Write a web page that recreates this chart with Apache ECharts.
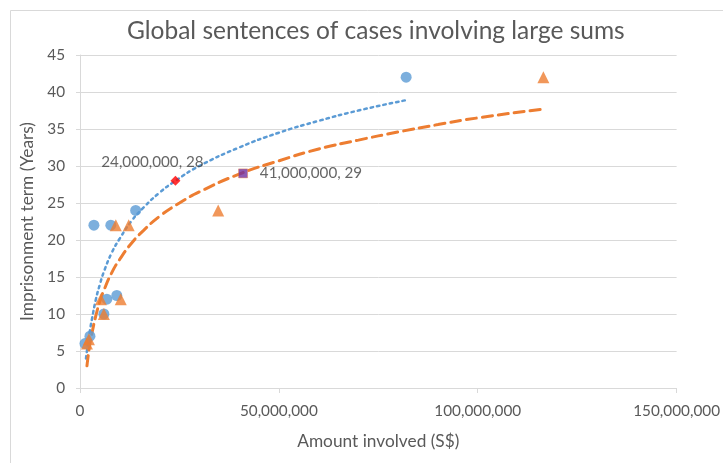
<!DOCTYPE html>
<html>
<head>
<meta charset="utf-8">
<script src="https://cdn.jsdelivr.net/npm/echarts@6/dist/echarts.min.js"></script>
<style>
html,body{margin:0;padding:0;background:#fff;}
#c{width:723px;height:463px;}
</style>
</head>
<body>
<div id="c"></div>
<script>
// Amount involved (S$), imprisonment term (years)
var blueCases = [[1.25e6, 6], [2.5e6, 7], [6e6, 10], [6.75e6, 12], [9.25e6, 12.5], [3.5e6, 22], [7.75e6, 22], [14e6, 24], [82e6, 42]];
var orangeCases = [[1.75e6, 6], [2.25e6, 6.6], [6e6, 10], [5.25e6, 12], [10.25e6, 12], [9e6, 22], [12.25e6, 22], [34.75e6, 24], [116.5e6, 42]];
var blueHighlight = [[24e6, 28]];
var orangeHighlight = [[41e6, 29]];
// trend curves
var blueTrend = [[1.5e6, 4], [2e6, 6], [2.5e6, 7.8], [3e6, 9.3], [4e6, 12], [5e6, 14], [6e6, 15.7], [8e6, 18.3], [10e6, 20.2], [13e6, 22.6], [16e6, 24.4], [20e6, 26.4], [24e6, 28], [30e6, 30], [40e6, 32.5], [50e6, 34.5], [60e6, 36.1], [70e6, 37.5], [82e6, 38.9]];
var orangeTrend = [[1.75e6, 3], [2e6, 4.1], [2.5e6, 6], [3e6, 7.4], [4e6, 9.8], [5e6, 11.7], [6e6, 13.2], [8e6, 15.6], [10e6, 17.4], [13e6, 19.6], [16e6, 21.3], [20e6, 23.2], [25e6, 25], [30e6, 26.5], [40e6, 28.9], [50e6, 30.7], [60e6, 32.3], [70e6, 33.5], [80e6, 34.6], [90e6, 35.6], [100e6, 36.5], [116.5e6, 37.7]];
var xTicks = [0, 50000000, 100000000, 150000000];
var yTicks = [0, 5, 10, 15, 20, 25, 30, 35, 40, 45];

var FONT = 'Lato';
function fmt(v){ return String(Math.round(v)).replace(/\B(?=(\d{3})+(?!\d))/g, ','); }

var chart = echarts.init(document.getElementById('c'), null, {renderer: 'canvas'});
chart.setOption({
  animation: false,
  backgroundColor: '#fff',
  textStyle: {fontFamily: FONT},
  graphic: [{
    type: 'rect', left: 8, top: 8, silent: true,
    shape: {x: 0, y: 0, width: 730, height: 470},
    style: {fill: 'none', stroke: '#d9d9d9', lineWidth: 1}
  }],
  title: {
    text: 'Global sentences of cases involving large sums',
    left: 122, top: 14,
    textStyle: {fontFamily: FONT, fontSize: 24.5, fontWeight: 'normal', color: '#595959'}
  },
  grid: {left: 80, right: 45, top: 55, bottom: 75},
  xAxis: {
    type: 'value', min: xTicks[0], max: xTicks[xTicks.length - 1], interval: xTicks[1] - xTicks[0],
    name: 'Amount involved (S$)', nameLocation: 'middle', nameGap: 45,
    nameTextStyle: {fontFamily: FONT, fontSize: 17.3, color: '#595959'},
    axisLine: {show: true, lineStyle: {color: '#d9d9d9', width: 1}},
    axisTick: {show: true, length: 5, lineStyle: {color: '#d9d9d9'}},
    axisLabel: {fontFamily: FONT, fontSize: 15.3, color: '#595959', margin: 16, formatter: fmt},
    splitLine: {show: false}
  },
  yAxis: {
    type: 'value', min: yTicks[0], max: yTicks[yTicks.length - 1], interval: yTicks[1] - yTicks[0],
    name: 'Imprisonment term (Years)', nameLocation: 'middle', nameGap: 40, nameRotate: 90,
    nameTextStyle: {fontFamily: FONT, fontSize: 17.3, color: '#595959'},
    axisLine: {show: true, lineStyle: {color: '#d9d9d9', width: 1}},
    axisTick: {show: true, length: 4, lineStyle: {color: '#d9d9d9'}},
    axisLabel: {fontFamily: FONT, fontSize: 15.3, color: '#595959', margin: 15},
    splitLine: {show: true, lineStyle: {color: '#d9d9d9', width: 1}}
  },
  series: [
    {type: 'line', data: blueTrend, smooth: true, symbol: 'none', z: 3,
     lineStyle: {color: '#5B9BD5', width: 2.5, type: [2.5, 4], cap: 'round'}},
    {type: 'line', data: orangeTrend, smooth: true, symbol: 'none', z: 3,
     lineStyle: {color: '#ED7D31', width: 3, type: [10, 6], cap: 'round'}},
    {type: 'scatter', data: blueCases, symbol: 'circle', symbolSize: 11, z: 4,
     itemStyle: {color: '#5B9BD5'}},
    {type: 'scatter', data: orangeCases, symbol: 'triangle', symbolSize: 12, z: 5,
     itemStyle: {color: '#ED7D31'}},
    {type: 'scatter', data: blueHighlight, symbol: 'diamond', symbolSize: 10, z: 6,
     itemStyle: {color: '#FF0000'},
     label: {show: true, position: 'top', offset: [-23, -1], fontFamily: FONT, fontSize: 15.2, color: '#404040',
       formatter: function(p){ return fmt(p.value[0]) + ', ' + p.value[1]; }}},
    {type: 'scatter', data: orangeHighlight, symbol: 'rect', symbolSize: 9, z: 6,
     itemStyle: {color: '#7030A0', borderColor: '#ED7D31', borderWidth: 0.5},
     label: {show: true, position: 'right', distance: 12, fontFamily: FONT, fontSize: 15.2, color: '#404040',
       formatter: function(p){ return fmt(p.value[0]) + ', ' + p.value[1]; }}}
  ]
});
</script>
</body>
</html>
